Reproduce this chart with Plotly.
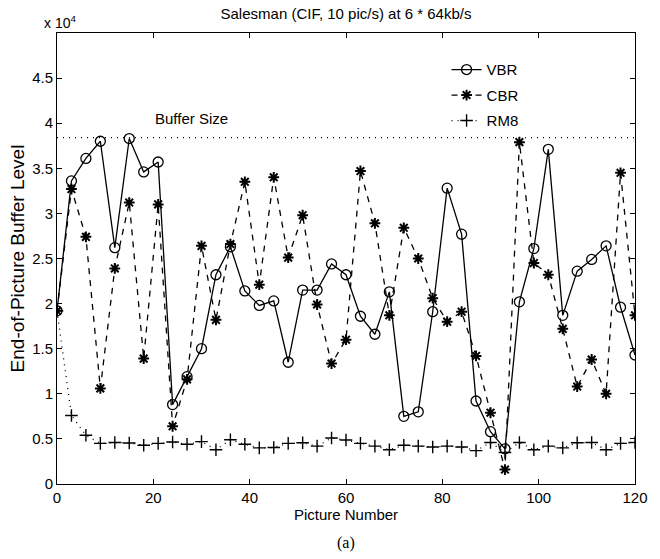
import plotly.graph_objects as go

# Picture numbers (every 3rd picture)
pictures = list(range(0, 121, 3))

# End-of-picture buffer level, in units of 10^4 bits
vbr = [1.92, 3.36, 3.61, 3.80, 2.62, 3.83, 3.46, 3.57, 0.88, 1.19,
       1.50, 2.32, 2.63, 2.14, 1.98, 2.03, 1.35, 2.15, 2.15, 2.44,
       2.32, 1.86, 1.66, 2.13, 0.75, 0.80, 1.91, 3.28, 2.77, 0.92,
       0.58, 0.39, 2.02, 2.61, 3.71, 1.87, 2.36, 2.49, 2.64, 1.96,
       1.43]
cbr = [1.92, 3.27, 2.74, 1.06, 2.39, 3.12, 1.39, 3.10, 0.64, 1.16,
       2.64, 1.82, 2.66, 3.35, 2.21, 3.40, 2.51, 2.98, 1.99, 1.335,
       1.60, 3.47, 2.89, 1.87, 2.84, 2.50, 2.06, 1.80, 1.91, 1.42,
       0.79, 0.16, 3.79, 2.45, 2.32, 1.72, 1.08, 1.38, 1.00, 3.45,
       1.87]
rm8 = [1.92, 0.76, 0.54, 0.45, 0.46, 0.455, 0.43, 0.45, 0.465, 0.44,
       0.47, 0.38, 0.49, 0.44, 0.40, 0.405, 0.45, 0.457, 0.42, 0.51,
       0.487, 0.45, 0.42, 0.38, 0.43, 0.42, 0.41, 0.42, 0.41, 0.37,
       0.46, 0.35, 0.46, 0.38, 0.42, 0.40, 0.457, 0.46, 0.38, 0.45,
       0.46]
buffer_size = 3.84

x_ticks = [0, 20, 40, 60, 80, 100, 120]
y_ticks = [0, 0.5, 1, 1.5, 2, 2.5, 3, 3.5, 4, 4.5]
y_ticklabels = ["0", "0.5", "1", "1.5", "2", "2.5", "3", "3.5", "4", "4.5"]

FONT = "Liberation Sans, Arial, sans-serif"

fig = go.Figure()
fig.add_trace(go.Scatter(
    x=pictures, y=vbr, name="VBR", mode="lines+markers",
    line=dict(color="black", width=1.3, dash="solid"),
    marker=dict(symbol="circle-open", size=10, color="black", line=dict(width=1.3)),
    legendgroup="a"))
fig.add_trace(go.Scatter(
    x=pictures, y=cbr, name="CBR", mode="lines+markers",
    line=dict(color="black", width=1.3, dash="6px,6px"),
    marker=dict(symbol="asterisk-open", size=9, color="black", line=dict(width=2)),
    legendgroup="b"))
fig.add_trace(go.Scatter(
    x=pictures, y=rm8, name="RM8", mode="lines+markers",
    line=dict(color="black", width=1.3, dash="1px,5px"),
    marker=dict(symbol="cross-thin-open", size=9, color="black", line=dict(width=1.4)),
    legendgroup="c"))

fig.add_shape(type="line", xref="paper", yref="y", x0=0, x1=1,
              y0=buffer_size, y1=buffer_size,
              line=dict(color="black", width=1.2, dash="1px,5px"))

fig.add_annotation(x=28, y=buffer_size, yshift=19, xref="x", yref="y",
                   text="Buffer Size", showarrow=False,
                   font=dict(family=FONT, size=15, color="black"))
fig.add_annotation(x=-0.026, y=1.0, xref="paper", yref="paper", xanchor="left",
                   yanchor="bottom", text="x 10<sup>4</sup>", showarrow=False,
                   font=dict(family=FONT, size=14, color="black"))
fig.add_annotation(x=0.5, y=-0.106, xref="paper", yref="paper", yanchor="top",
                   text="(a)", showarrow=False,
                   font=dict(family="Liberation Serif, Times New Roman, serif", size=16, color="black"))

fig.update_layout(
    width=660, height=559,
    margin=dict(l=57, r=23, t=33, b=75),
    paper_bgcolor="white", plot_bgcolor="white",
    font=dict(family=FONT, size=15, color="black"),
    title=dict(text="Salesman (CIF, 10 pic/s) at 6 * 64kb/s", x=0.5, xref="paper",
               xanchor="center", y=0.985, yanchor="top",
               font=dict(family=FONT, size=15, color="black")),
    showlegend=True,
    legend=dict(x=0.674, y=0.955, xanchor="left", yanchor="top",
                bgcolor="rgba(255,255,255,0)", borderwidth=0,
                font=dict(family=FONT, size=15, color="black"),
                tracegroupgap=3, traceorder="grouped"),
    xaxis=dict(range=[0, 120], tickvals=x_ticks, ticks="inside", ticklen=5,
               showline=True, linecolor="black", linewidth=1, mirror="ticks",
               showgrid=False, zeroline=False, tickcolor="black",
               tickfont=dict(family=FONT, size=15),
               title=dict(text="Picture Number", standoff=0,
                          font=dict(family=FONT, size=15))),
    yaxis=dict(range=[0, 5], tickvals=y_ticks, ticktext=y_ticklabels,
               ticks="inside", ticklen=5,
               showline=True, linecolor="black", linewidth=1, mirror="ticks",
               showgrid=False, zeroline=False, tickcolor="black",
               tickfont=dict(family=FONT, size=15),
               title=dict(text="End-of-Picture Buffer Level", standoff=2,
                          font=dict(family=FONT, size=19))),
)

fig.write_html("out.html")
